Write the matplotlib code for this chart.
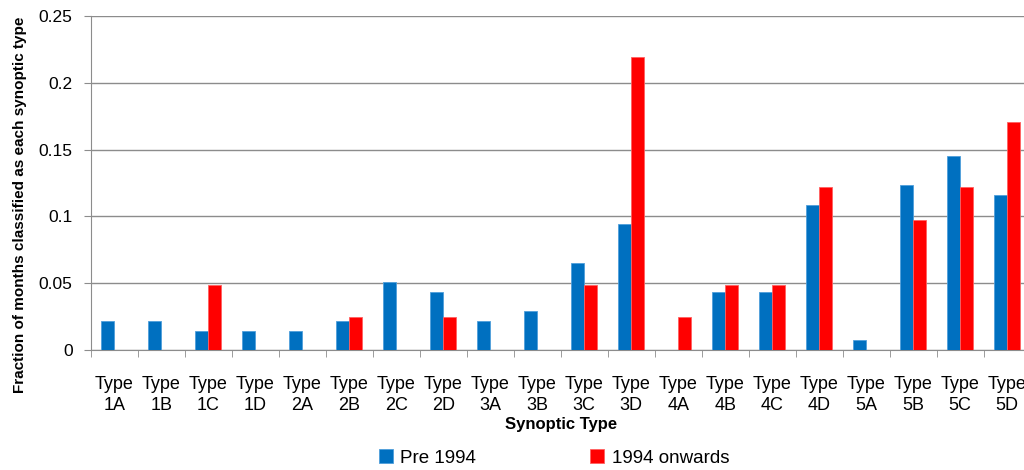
import matplotlib.pyplot as plt
import numpy as np

plt.rcParams['font.family'] = ['Liberation Sans', 'DejaVu Sans']

types = ['1A', '1B', '1C', '1D', '2A', '2B', '2C', '2D', '3A', '3B',
         '3C', '3D', '4A', '4B', '4C', '4D', '5A', '5B', '5C', '5D']
pre_1994 = [0.0217, 0.0217, 0.0145, 0.0145, 0.0145, 0.0217, 0.0507, 0.0435, 0.0217, 0.029,
            0.0652, 0.0942, 0.0, 0.0435, 0.0435, 0.1087, 0.0072, 0.1232, 0.1449, 0.1159]
post_1994 = [0.0, 0.0, 0.0488, 0.0, 0.0, 0.0244, 0.0, 0.0244, 0.0, 0.0,
             0.0488, 0.2195, 0.0244, 0.0488, 0.0488, 0.122, 0.0, 0.0976, 0.122, 0.1707]

blue = '#0070C0'
red = '#FF0000'
grid_col = '#8C8C8C'

fig = plt.figure(figsize=(10.24, 4.70), dpi=100)
# plot area runs a little past the right edge, as in the original
ax = fig.add_axes([90.7/1024, 1-350/470, 940/1024, 334/470])

x = np.arange(len(types))
w = 0.28
ax.bar(x - w/2, pre_1994, w, color=blue, edgecolor='#4F9FDB', linewidth=0.6, label='Pre 1994', zorder=3)
ax.bar(x + w/2, post_1994, w, color=red, edgecolor='#FF6060', linewidth=0.6, label='1994 onwards', zorder=3)

ax.set_xlim(-0.5, len(types) - 0.5)
ax.set_ylim(0, 0.25)
ax.set_yticks([0, 0.05, 0.1, 0.15, 0.2, 0.25])
ax.set_yticklabels(['0', '0.05', '0.1', '0.15', '0.2', '0.25'], fontsize=12.5)
ax.yaxis.grid(True, color=grid_col, linewidth=1, zorder=0)
ax.tick_params(axis='y', length=5, color=grid_col, pad=8)

ax.set_xticks(x)
ax.set_xticklabels(['Type\n' + t for t in types], fontsize=13, linespacing=1.25)
ax.set_xticks(np.arange(len(types) + 1) - 0.5, minor=True)
ax.tick_params(axis='x', which='major', length=0, pad=19)
ax.tick_params(axis='x', which='minor', length=5, color=grid_col)

for s in ['top', 'right']:
    ax.spines[s].set_visible(False)
ax.spines['left'].set_color(grid_col)
ax.spines['bottom'].set_color(grid_col)

fig.text(561/1024, 1-425/470, 'Synoptic Type', ha='center', va='center',
         fontsize=12, fontweight='bold')
fig.text(20/1024, 1-205/470, 'Fraction of months classified as each synoptic type',
         rotation=90, ha='center', va='center', fontsize=11, fontweight='bold')

fig.legend(loc='center', bbox_to_anchor=(554/1024, 1-458/470), ncol=2, frameon=False,
           fontsize=13.5, handlelength=0.75, handleheight=0.75, handletextpad=0.4, columnspacing=6.1)

fig.savefig('out.png', dpi=100)
